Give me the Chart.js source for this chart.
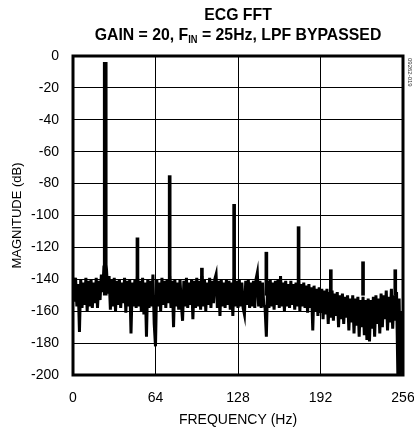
<!DOCTYPE html>
<html>
<head>
<meta charset="utf-8">
<script src="https://cdn.jsdelivr.net/npm/chart.js@4.4.1/dist/chart.umd.min.js"></script>
<style>
  html, body { margin: 0; padding: 0; background: #fff; }
  #wrap { position: relative; width: 414px; height: 433px; }
  #title {
    position: absolute; left: 38px; width: 400px; top: 5px;
    text-align: center; font-family: 'Liberation Sans', Arial, sans-serif;
    font-weight: bold; font-size: 17px; line-height: 20px; color: #000;
    transform: scaleX(0.93); transform-origin: 200px 0;
  }
  #title sub { font-size: 10px; vertical-align: -3px; line-height: 0; }
  #figid {
    position: absolute; left: 404px; top: 58px; font-family: 'Liberation Sans', Arial, sans-serif;
    font-size: 6px; color: #333; transform-origin: 0 0; transform: rotate(90deg) translate(0, -9px);
    white-space: nowrap;
  }
  canvas { position: absolute; left: 0; top: 0; }
</style>
</head>
<body>
<div id="wrap">
  <canvas id="fft" width="414" height="433"></canvas>
  <div id="title">ECG FFT<br>GAIN = 20, F<sub>IN</sub> = 25Hz, LPF BYPASSED</div>
  <div id="figid">09262-019</div>
</div>
<script>
  // noise floor, one bin per Hz from 0 to 256 Hz (dB)
  const noiseDb = [
    -141, -154, -139, -157, -143, -173, -140, -158, -142, -156, -139, -160, -141, -157, -140, -158,
    -142, -155, -139, -158, -141, -153, -137, -148, -132, -130, -134, -149, -138, -159, -140, -157,
    -139, -160, -141, -156, -140, -158, -142, -155, -139, -161, -141, -157, -140, -174, -142, -157,
    -140, -158, -138, -157, -141, -160, -139, -162, -142, -176, -140, -158, -141, -157, -137, -168,
    -182, -140, -157, -142, -160, -139, -156, -141, -158, -140, -155, -138, -158, -141, -170, -140,
    -157, -142, -159, -140, -155, -166, -141, -157, -139, -158, -142, -156, -140, -165, -141, -158,
    -139, -157, -141, -159, -138, -157, -140, -160, -142, -156, -139, -158, -141, -155, -140, -137,
    -158, -141, -163, -140, -157, -142, -158, -140, -156, -141, -159, -142, -163, -139, -157, -141,
    -158, -140, -157, -142, -158, -162, -141, -156, -140, -158, -142, -157, -141, -158, -140, -136,
    -157, -141, -158, -142, -156, -158, -176, -141, -158, -140, -157, -142, -159, -141, -156, -140,
    -158, -138, -157, -142, -160, -141, -157, -143, -158, -141, -156, -143, -159, -142, -157, -141,
    -160, -143, -157, -142, -158, -144, -161, -143, -158, -145, -172, -144, -160, -146, -163, -145,
    -161, -146, -165, -147, -162, -146, -168, -148, -164, -147, -166, -149, -163, -148, -170, -150,
    -165, -149, -168, -151, -164, -150, -172, -152, -167, -150, -174, -152, -169, -151, -176, -153,
    -170, -151, -175, -153, -178, -152, -179, -153, -171, -151, -176, -150, -168, -152, -174, -149,
    -170, -150, -165, -147, -172, -151, -167, -146, -171, -150, -166, -148, -200, -152, -200, -160,
    -165
  ];
  const binHz = 1;

  // harmonic spurs
  const fundHz = [25];
  const fundDb = [-4];
  const spurHz = [50, 75, 100, 125, 150, 175, 200, 225, 250];
  const spurDb = [-114, -75, -133, -93, -123, -107, -134, -129, -134];
  const spurBase = -150;

  const xTicks = [0, 64, 128, 192, 256];
  const yTicks = [0, -20, -40, -60, -80, -100, -120, -140, -160, -180, -200];

  const noisePts = noiseDb.map((v, i) => ({ x: i * binHz, y: v }));
  const fundPts = fundHz.map((f, i) => ({ x: f, y: [spurBase, fundDb[i]] }));
  const spurPts = spurHz.map((f, i) => ({ x: f, y: [spurBase, spurDb[i]] }));

  const frame = {
    id: 'frame',
    afterDraw(chart) {
      const a = chart.chartArea, c = chart.ctx;
      c.save();
      c.strokeStyle = '#000';
      c.lineWidth = 3;
      c.strokeRect(a.left, a.top, a.right - a.left, a.bottom - a.top);
      c.restore();
    }
  };

  const fam = "'Liberation Sans', Arial, sans-serif";

  new Chart(document.getElementById('fft'), {
    type: 'line',
    data: {
      datasets: [
        { type: 'line', data: noisePts, borderColor: '#000', borderWidth: 3, pointRadius: 0, tension: 0, order: 2 },
        { type: 'bar', data: fundPts, backgroundColor: '#000', barThickness: 4, grouped: false, order: 1 },
        { type: 'bar', data: spurPts, backgroundColor: '#000', barThickness: 3, grouped: false, order: 1 }
      ]
    },
    options: {
      responsive: false,
      animation: false,
      events: [],
      layout: { padding: { top: 56, right: 11, left: 0, bottom: 0 }, autoPadding: false },
      plugins: { legend: { display: false }, tooltip: { enabled: false } },
      scales: {
        x: {
          type: 'linear', min: 0, max: 256, offset: false,
          afterBuildTicks: s => { s.ticks = xTicks.map(v => ({ value: v })); },
          afterFit: s => { s.height = 58; s.paddingLeft = 0; s.paddingRight = 0; },
          grid: { color: '#000', lineWidth: 1, drawTicks: false, offset: false },
          border: { display: false },
          ticks: { color: '#000', font: { family: fam, size: 14 }, padding: 15, maxRotation: 0 },
          title: { display: true, text: 'FREQUENCY (Hz)', color: '#000', font: { family: fam, size: 14 }, padding: { top: 0, bottom: 4 } }
        },
        y: {
          min: -200, max: 0,
          afterBuildTicks: s => { s.ticks = yTicks.map(v => ({ value: v })); },
          afterFit: s => { s.width = 73; s.paddingTop = 0; s.paddingBottom = 0; },
          grid: { color: '#000', lineWidth: 1, drawTicks: false },
          border: { display: false },
          ticks: { color: '#000', font: { family: fam, size: 14 }, padding: 14 },
          title: { display: true, text: 'MAGNITUDE (dB)', color: '#000', font: { family: fam, size: 13 }, padding: { top: 10, bottom: 0 } }
        }
      }
    },
    plugins: [frame]
  });
</script>
</body>
</html>
